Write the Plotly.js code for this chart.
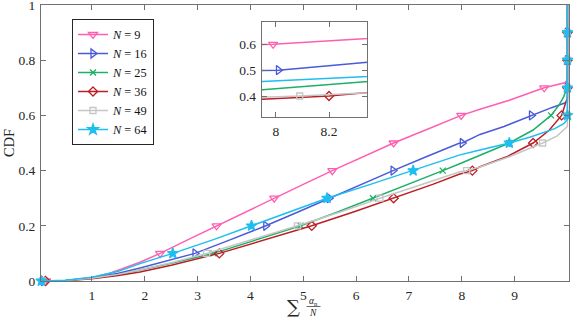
<!DOCTYPE html>
<html><head><meta charset="utf-8">
<script src="https://cdn.plot.ly/plotly-3.0.1.min.js"></script>
<style>html,body{margin:0;padding:0;background:#fff;}#chart{width:573px;height:317px;}</style>
</head><body><div id="chart"></div>
<script>
// ---- data ----
const seriesNames = ['<i>N</i> = 9', '<i>N</i> = 16', '<i>N</i> = 25', '<i>N</i> = 36', '<i>N</i> = 49', '<i>N</i> = 64'];

const n9X  = [0.13, 0.5, 1.0, 1.34, 1.91, 2.29, 2.8, 3.36, 3.9, 4.45, 5.0, 5.55, 6.1, 6.71, 7.35, 7.95, 7.99, 8.345, 8.9, 9.56, 9.95, 10, 10, 10, 10];
const n9Y  = [0, 0.002, 0.013, 0.028, 0.068, 0.1, 0.148, 0.2, 0.25, 0.3, 0.35, 0.4, 0.448, 0.5, 0.55, 0.599, 0.6, 0.622, 0.655, 0.7, 0.718, 0.728, 0.8, 0.9, 1.0];

const n16X = [0.08, 0.5, 1.0, 1.5, 1.91, 2.5, 2.95, 3.6, 4.29, 4.9, 5.49, 6.1, 6.70, 7.35, 7.95, 8.01, 8.345, 8.8, 9.32, 9.7, 9.95, 10, 10, 10, 10, 10];
const n16Y = [0, 0.002, 0.011, 0.028, 0.047, 0.078, 0.1, 0.148, 0.2, 0.25, 0.3, 0.35, 0.4, 0.452, 0.499, 0.5, 0.531, 0.56, 0.6, 0.628, 0.645, 0.652, 0.7, 0.8, 0.9, 1.0];

const n25X = [0.07, 0.5, 1.0, 1.5, 1.91, 2.5, 3.3, 4.18, 4.95, 5.65, 6.32, 7.0, 7.64, 7.95, 8.345, 8.9, 9.35, 9.69, 9.85, 9.93, 9.98, 10, 10, 10, 10];
const n25Y = [0, 0.002, 0.01, 0.024, 0.04, 0.064, 0.1, 0.154, 0.2, 0.25, 0.3, 0.35, 0.4, 0.424, 0.456, 0.5, 0.547, 0.6, 0.64, 0.668, 0.693, 0.7, 0.8, 0.9, 1.0];

const n36X = [0.12, 0.5, 1.0, 1.5, 1.91, 2.5, 3.41, 4.3, 5.16, 5.95, 6.71, 7.45, 7.95, 8.2, 8.345, 8.85, 9.35, 9.65, 9.89, 9.97, 10, 10, 10, 10, 10];
const n36Y = [0, 0.001, 0.008, 0.02, 0.033, 0.057, 0.1, 0.15, 0.2, 0.25, 0.3, 0.35, 0.387, 0.4, 0.414, 0.45, 0.5, 0.545, 0.6, 0.645, 0.665, 0.7, 0.8, 0.9, 1.0];

const n49X = [0.06, 0.5, 1.0, 1.5, 1.91, 2.5, 3.17, 4.0, 4.89, 5.7, 6.45, 7.2, 7.95, 8.09, 8.345, 8.9, 9.53, 9.8, 9.95, 10, 10, 10, 10, 10, 10];
const n49Y = [0, 0.002, 0.01, 0.024, 0.041, 0.066, 0.1, 0.148, 0.2, 0.25, 0.3, 0.347, 0.395, 0.4, 0.413, 0.45, 0.5, 0.525, 0.55, 0.56, 0.6, 0.7, 0.8, 0.9, 1.0];

const n64X = [0.04, 0.5, 1.0, 1.5, 1.91, 2.53, 3.3, 4.02, 4.7, 5.45, 6.3, 7.08, 7.5, 7.95, 8.345, 8.9, 9.3, 9.76, 9.93, 10, 10, 10, 10, 10, 10];
const n64Y = [0, 0.003, 0.014, 0.035, 0.063, 0.1, 0.15, 0.2, 0.248, 0.3, 0.352, 0.4, 0.428, 0.456, 0.475, 0.5, 0.522, 0.552, 0.57, 0.585, 0.6, 0.7, 0.8, 0.9, 1.0];

const xTickVals = [1, 2, 3, 4, 5, 6, 7, 8, 9];
const yTickVals = [0, 0.2, 0.4, 0.6, 0.8, 1];
const yTickText = ['0', '0.2', '0.4', '0.6', '0.8', '1'];
const insetXTickVals = [8, 8.2];
const insetXTickText = ['8', '8.2'];
const insetYTickVals = [0.4, 0.5, 0.6];
const insetYTickText = ['0.4', '0.5', '0.6'];

// ---- styles ----
const seriesX = [n9X, n16X, n25X, n36X, n49X, n64X];
const seriesY = [n9Y, n16Y, n25Y, n36Y, n49Y, n64Y];
const colors = ['#FF5FB0', '#4A5AD8', '#1CB068', '#BC1E24', '#C6C6C6', '#1EBEF0'];
const symbols = ['triangle-down-open', 'triangle-right-open', 'x-thin-open', 'diamond-open', 'square-open', 'star'];
const msizes = [8, 8, 6, 7, 6, 8];

function isLevel(y) { return y < 0.999 && Math.abs(y * 10 - Math.round(y * 10)) < 1e-6; }

const traces = [];
for (const [xa, ya, clip] of [['x', 'y', false], ['x2', 'y2', true]]) {
  for (let i = 0; i < 6; i++) {
    traces.push({
      x: seriesX[i], y: seriesY[i], xaxis: xa, yaxis: ya, mode: 'lines',
      line: {color: colors[i], width: 1.5}, showlegend: false, hoverinfo: 'skip'
    });
    const mx = [], my = [];
    seriesX[i].forEach((v, k) => { if (isLevel(seriesY[i][k])) { mx.push(v); my.push(seriesY[i][k]); } });
    traces.push({
      x: mx, y: my, xaxis: xa, yaxis: ya, mode: 'markers', cliponaxis: clip,
      marker: {symbol: symbols[i], size: msizes[i], color: colors[i], line: {color: colors[i], width: 1.3}},
      showlegend: false, hoverinfo: 'skip'
    });
  }
}
for (let i = 0; i < 6; i++) {
  traces.push({
    x: [null], y: [null], xaxis: 'x', yaxis: 'y', mode: 'lines+markers', name: seriesNames[i],
    line: {color: colors[i], width: 1.5},
    marker: {symbol: symbols[i], size: msizes[i], color: colors[i], line: {color: colors[i], width: 1.3}},
    showlegend: true
  });
}

const axCol = '#707070';
const axBase = {ticks: 'inside', ticklen: 5, tickcolor: axCol, tickwidth: 1, showline: true, linecolor: axCol, linewidth: 1,
  mirror: 'ticks', showgrid: false, zeroline: false, tickfont: {size: 13.5, color: '#262626'},
  ticklabeloverflow: 'allow', ticklabelstandoff: 2};

const L = 41, PW = 528, B = 281, PH = 276;
const px = v => (v - L) / PW;
const py = v => (B - v) / PH;

const layout = {
  width: 573, height: 317,
  margin: {l: 41, r: 4, t: 5, b: 36},
  paper_bgcolor: '#ffffff', plot_bgcolor: '#ffffff',
  font: {family: 'Liberation Serif, DejaVu Serif, serif', size: 13, color: '#262626'},
  showlegend: true,
  legend: {x: px(72), y: py(19), xanchor: 'left', yanchor: 'top', bgcolor: '#ffffff', bordercolor: '#262626',
    borderwidth: 1, font: {size: 12.3, color: '#111'}, traceorder: 'normal'},
  xaxis: Object.assign({}, axBase, {range: [0.035, 10.03], tickvals: xTickVals, ticktext: xTickVals.map(String)}),
  yaxis: Object.assign({}, axBase, {range: [0, 1], tickvals: yTickVals, ticktext: yTickText,
    title: {text: 'CDF', font: {size: 14.5, color: '#262626'}, standoff: 0}}),
  xaxis2: Object.assign({}, axBase, {domain: [px(261.7), px(367.3)], anchor: 'y2', range: [7.947, 8.344],
    tickvals: insetXTickVals, ticktext: insetXTickText}),
  yaxis2: Object.assign({}, axBase, {domain: [py(116.7), py(22.3)], anchor: 'x2', range: [0.32, 0.685],
    tickvals: insetYTickVals, ticktext: insetYTickText}),
  annotations: [
    {xref: 'paper', yref: 'paper', x: px(293.5), y: py(306), xanchor: 'center', yanchor: 'middle', showarrow: false,
      text: '∑', font: {size: 18, color: '#262626', family: 'DejaVu Serif, serif'}, borderpad: 0},
    {xref: 'paper', yref: 'paper', x: px(313.5), y: py(306.5), xanchor: 'center', yanchor: 'middle', showarrow: false,
      text: '<i>α</i><sub>n</sub><br><i>N</i>', font: {size: 9.5, color: '#262626'}, borderpad: 0}
  ],
  shapes: [
    {type: 'line', xref: 'paper', yref: 'paper', x0: px(306.5), x1: px(320.5), y0: py(306.5), y1: py(306.5),
      line: {color: '#262626', width: 0.7}}
  ]
};

Plotly.newPlot('chart', traces, layout, {staticPlot: true, displayModeBar: false});
</script>
</body></html>
